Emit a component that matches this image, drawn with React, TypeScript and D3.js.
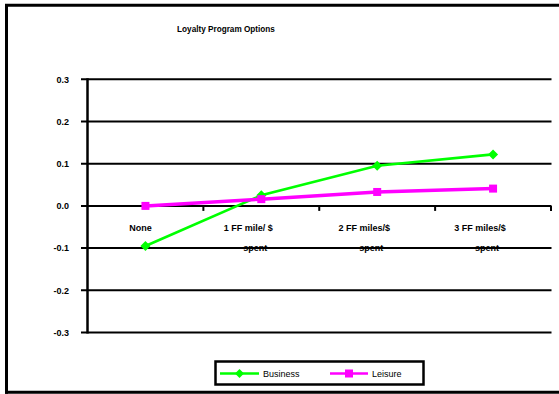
import React from "react";
import * as d3 from "d3";

const categories = ["None", "1 FF mile/ $|spent", "2 FF miles/$|spent", "3 FF miles/$|spent"];
const business = [-0.095, 0.025, 0.095, 0.122];
const leisure = [0.0, 0.016, 0.033, 0.041];
const yTicks = [0.3, 0.2, 0.1, 0.0, -0.1, -0.2, -0.3];
const title = "Loyalty Program Options";

const W = 559;
const H = 394;
const GREEN = "#00ff00";
const MAGENTA = "#ff00ff";
const FONT = "'Liberation Sans', Arial, sans-serif";

export default function App() {
  const x = d3.scaleBand<string>().domain(categories).range([87.5, 551]);
  const y = d3.scaleLinear().domain([-0.3, 0.3]).range([332.5, 79.3]);
  const cx = (c: string) => (x(c) as number) + x.bandwidth() / 2;

  const line = d3
    .line<number>()
    .x((_, i) => cx(categories[i]))
    .y((d) => y(d));

  const diamond = d3.symbol().type(d3.symbolDiamond2).size(64)();
  const legendDiamond = d3.symbol().type(d3.symbolDiamond2).size(52)();

  const y0 = y(0);
  const boundaries = categories.map((c) => (x(c) as number) + x.bandwidth());

  return (
    <svg
      width={W}
      height={H}
      style={{ position: "absolute", left: 0, top: 0, background: "#fff" }}
      fontFamily={FONT}
    >
      <rect x={0} y={0} width={W} height={H} fill="#fff" />
      {/* frame: left, top, bottom */}
      <path d={`M6.5,393.7 V5.3 H${W}`} fill="none" stroke="#000" strokeWidth={3} />
      <line x1={5} x2={W} y1={392.2} y2={392.2} stroke="#000" strokeWidth={3} />

      <text x={226} y={32} textAnchor="middle" fontSize={8.2} fontWeight="bold" fill="#000">
        {title}
      </text>

      {/* category labels */}
      {categories.map((c) => {
        const parts = c.split("|");
        const two = parts.length > 1;
        return (
          <g key={c} fontSize={9} fontWeight="bold" fill="#000" textAnchor="middle">
            <text x={cx(c) + (two ? -13 : -5)} y={231}>
              {parts[0]}
            </text>
            {two && (
              <text x={cx(c) - 6} y={251}>
                {parts[1]}
              </text>
            )}
          </g>
        );
      })}

      {/* horizontal gridlines and y ticks */}
      {yTicks.map((t) => (
        <g key={t}>
          <line x1={81} x2={551.5} y1={y(t)} y2={y(t)} stroke="#000" strokeWidth={2} />
          <text
            x={69}
            y={y(t) + 3.2}
            textAnchor="end"
            fontSize={9}
            fontWeight="bold"
            fill="#000"
          >
            {t.toFixed(1)}
          </text>
        </g>
      ))}

      {/* value axis */}
      <line x1={87.5} x2={87.5} y1={y(0.3) - 1} y2={y(-0.3) + 1} stroke="#000" strokeWidth={2.5} />

      {/* category axis ticks */}
      {boundaries.map((b, i) => (
        <line key={i} x1={b} x2={b} y1={y0} y2={y0 + 5} stroke="#000" strokeWidth={2} />
      ))}

      {/* Business series */}
      <path d={line(business) ?? ""} fill="none" stroke={GREEN} strokeWidth={2.6} />
      {business.map((v, i) => (
        <path
          key={i}
          d={diamond ?? ""}
          transform={`translate(${cx(categories[i])},${y(v)})`}
          fill={GREEN}
        />
      ))}

      {/* Leisure series */}
      <path d={line(leisure) ?? ""} fill="none" stroke={MAGENTA} strokeWidth={3.5} />
      {leisure.map((v, i) => (
        <rect
          key={i}
          x={cx(categories[i]) - 4}
          y={y(v) - 4}
          width={8}
          height={8}
          fill={MAGENTA}
        />
      ))}

      {/* legend */}
      <rect x={215.5} y={361.5} width={208} height={23} fill="#fff" stroke="#000" strokeWidth={2.5} />
      <line x1={220} x2={259} y1={373.5} y2={373.5} stroke={GREEN} strokeWidth={2.6} />
      <path d={legendDiamond ?? ""} transform="translate(239.5,373.5)" fill={GREEN} />
      <text x={263} y={376.7} fontSize={9} fill="#000">
        Business
      </text>
      <line x1={330} x2={368} y1={373.5} y2={373.5} stroke={MAGENTA} strokeWidth={2.6} />
      <rect x={345} y={369.5} width={8} height={8} fill={MAGENTA} />
      <text x={372} y={376.7} fontSize={9} fill="#000">
        Leisure
      </text>
    </svg>
  );
}
